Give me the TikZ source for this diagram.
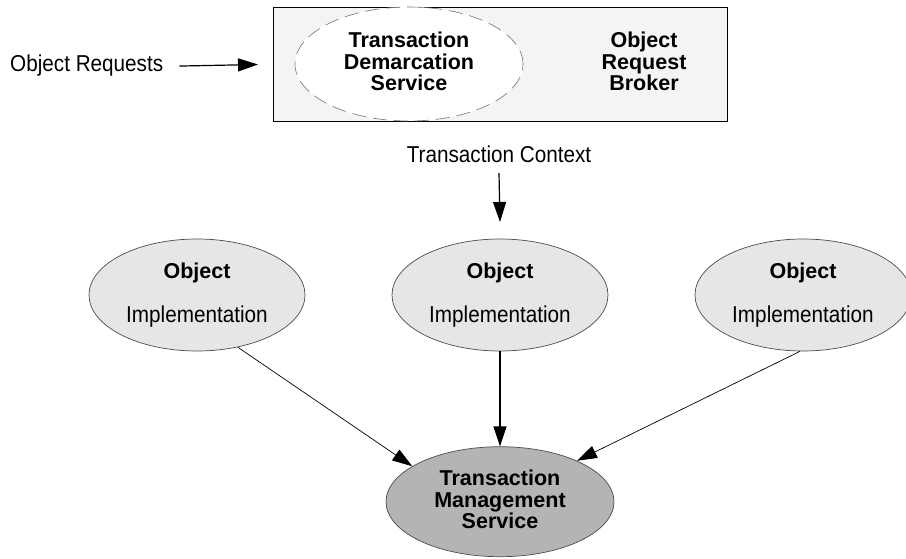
\documentclass[tikz,border=0pt]{standalone}
\usepackage{fontspec}
\setmainfont{Liberation Sans}
\newfontfamily\narrowsans[FakeStretch=0.9]{Liberation Sans}
\usetikzlibrary{arrows.meta,shapes.geometric}

\definecolor{brokerfill}{HTML}{F4F4F4}
\definecolor{objfill}{HTML}{E6E6E6}
\definecolor{tmsfill}{HTML}{B4B4B4}

\begin{document}
\begin{tikzpicture}[x=1pt,y=-1pt,
  plaintext/.style={font=\narrowsans\fontsize{23}{26}\selectfont, inner sep=0pt, anchor=base},
  heavytext/.style={font=\bfseries\fontsize{21.5}{24}\selectfont, inner sep=0pt, anchor=base},
  objshape/.style={ellipse, draw=black!70, line width=0.7pt, fill=objfill,
    minimum width=216pt, minimum height=112pt, inner sep=0pt},
  tmsshape/.style={ellipse, draw=black!70, line width=0.7pt, fill=tmsfill,
    minimum width=228pt, minimum height=110pt, inner sep=0pt},
  demshape/.style={ellipse, draw=black!55, line width=0.6pt, fill=white,
    dash pattern=on 14pt off 7pt, minimum width=228pt, minimum height=114pt, inner sep=0pt},
  tip/.style={-{Triangle[length=20pt,width=13pt]}, line width=1.2pt},
  thintip/.style={-{Triangle[length=20pt,width=13pt]}, line width=0.7pt}
]
\useasboundingbox (0,0) rectangle (906,559);

% Object Request Broker with the demarcation service inside
\node[draw=black, line width=0.9pt, fill=brokerfill, minimum width=454pt, minimum height=114pt,
  inner sep=0pt] (orb) at (500,64) {};
\node[demshape] (tds) at (409,64) {};
\node[heavytext] (tds1) at (409,47.7) {Transaction};
\node[heavytext] (tds2) at (409,69.5) {Demarcation};
\node[heavytext] (tds3) at (409,90.5) {Service};
\node[heavytext] (orb1) at (644,47.7) {Object};
\node[heavytext] (orb2) at (644,69.5) {Request};
\node[heavytext] (orb3) at (644,90.5) {Broker};

% incoming requests
\node[plaintext, anchor=base west] (req) at (10,72) {Object Requests};
\coordinate (reqtip) at (258,64.5);
\draw[tip] ([xshift=16pt]req.east) -- (reqtip);

% transaction context
\node[plaintext] (ctx) at (499,162.7) {Transaction Context};
\coordinate (ctxtip) at (500,222);
\draw[tip] ([yshift=-10pt]ctx.south) -- (ctxtip);

% object implementations
\foreach \name/\cx in {objL/197, objM/500, objR/803}{
  \node[objshape] (\name) at (\cx,295) {};
  \node[heavytext] (\name-a) at (\cx,279) {Object};
  \node[plaintext] (\name-b) at (\cx,322) {Implementation};
}

% transaction management service
\node[tmsshape] (tms) at (500,501.7) {};
\node[heavytext] (tms1) at (500,485.5) {Transaction};
\node[heavytext] (tms2) at (500,507) {Management};
\node[heavytext] (tms3) at (500,528) {Service};

\draw[thintip] (objL.-52.8) -- (tms.158.8);
\draw[tip] (objM.south) -- (tms.north);
\draw[thintip] (objR.-93) -- (tms.28.1);
\end{tikzpicture}
\end{document}
